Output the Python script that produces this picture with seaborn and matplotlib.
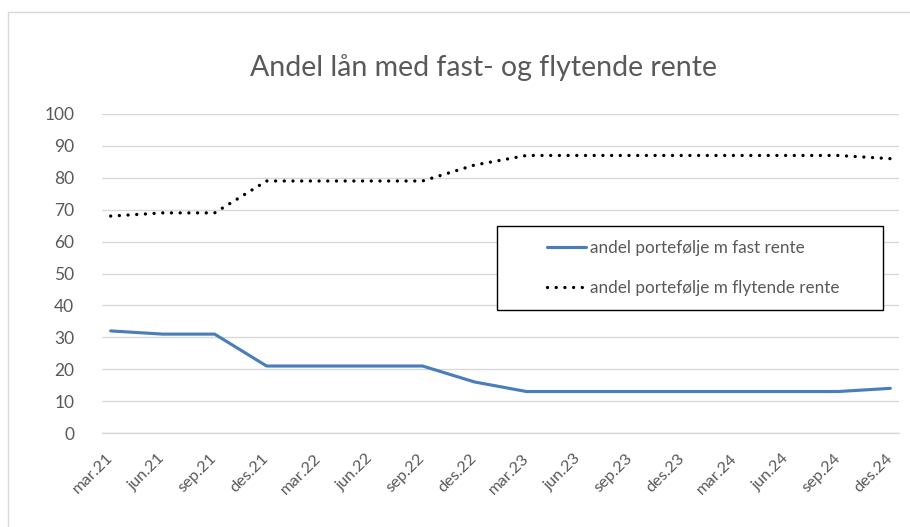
import matplotlib
matplotlib.use("Agg")
import matplotlib.pyplot as plt
from matplotlib.patches import Rectangle
import numpy as np
import pandas as pd
import seaborn as sns

# ---- data ----
categories = ["mar.21", "jun.21", "sep.21", "des.21",
              "mar.22", "jun.22", "sep.22", "des.22",
              "mar.23", "jun.23", "sep.23", "des.23",
              "mar.24", "jun.24", "sep.24", "des.24"]
fast_rente = [32, 31, 31, 21, 21, 21, 21, 16, 13, 13, 13, 13, 13, 13, 13, 14]
flytende_rente = [68, 69, 69, 79, 79, 79, 79, 84, 87, 87, 87, 87, 87, 87, 87, 86]
series_names = ["andel portefølje m fast rente", "andel portefølje m flytende rente"]
y_ticks = [0, 10, 20, 30, 40, 50, 60, 70, 80, 90, 100]
title = "Andel lån med fast- og flytende rente"

# month-based date axis: each category is a quarter start; points sit mid-month
month_start = np.arange(len(categories)) * 3
month_mid = month_start + 0.5

df = pd.DataFrame({
    "x": np.concatenate([month_mid, month_mid]),
    "y": fast_rente + flytende_rente,
    "serie": [series_names[0]] * len(categories) + [series_names[1]] * len(categories),
})

sns.set_theme(style="white")
plt.rcParams["font.family"] = ["Lato", "DejaVu Sans"]

W, H = 910, 527
fig = plt.figure(figsize=(W / 100, H / 100), dpi=100)
fig.patch.set_facecolor("white")

# chart area border
fig.patches.append(Rectangle((8 / W, -0.1), 1.2, 1 - 12 / H + 0.1,
                             transform=fig.transFigure, fill=False,
                             edgecolor="#d9d9d9", linewidth=1.0, zorder=0))

ax = fig.add_axes([102 / W, (H - 433) / H, 797 / W, 319 / H])
ax.set_facecolor("white")

grey = "#595959"
grid_c = "#d9d9d9"

sns.lineplot(data=df[df["serie"] == series_names[0]], x="x", y="y", ax=ax,
             color="#4a7ebb", linewidth=2.25, label=series_names[0],
             solid_joinstyle="round", solid_capstyle="round")
sns.lineplot(data=df[df["serie"] == series_names[1]], x="x", y="y", ax=ax,
             color="black", linewidth=2.4, label=series_names[1],
             linestyle=(0, (0.01, 2.6)), dash_capstyle="round")

ax.set_xlim(0, month_start[-1] + 1)
ax.set_ylim(0, 100)
ax.set_yticks(y_ticks)
ax.set_yticklabels([str(v) for v in y_ticks], color=grey, fontsize=12.5)
ax.set_xticks(month_mid)
ax.set_xticklabels(categories, rotation=45, ha="right", va="center",
                   rotation_mode="anchor", color=grey, fontsize=11.8)
ax.set_xticks(month_start, minor=True)
ax.tick_params(axis="x", which="major", length=0, pad=16.5)
ax.tick_params(axis="x", which="minor", length=5, color=grid_c, width=1, direction="out")
ax.tick_params(axis="y", length=0, pad=20)
ax.yaxis.grid(True, color=grid_c, linewidth=1)
ax.set_axisbelow(True)
for s in ["top", "right", "left"]:
    ax.spines[s].set_visible(False)
ax.spines["bottom"].set_color(grid_c)
ax.spines["bottom"].set_linewidth(1)
ax.set_xlabel("")
ax.set_ylabel("")

fig.text(483 / W, 1 - 68 / H, title, ha="center", va="center",
         fontsize=20.5, color=grey)

# legend
handles, labels = ax.get_legend_handles_labels()
ax.get_legend().remove()
fig.patches.append(Rectangle((497 / W, 1 - 310 / H), 386 / W, 84 / H,
                             transform=fig.transFigure, fill=True, facecolor="white",
                             edgecolor="black", linewidth=1.0, zorder=5))
leg = fig.legend(handles, labels, loc="center", bbox_to_anchor=(693 / W, 1 - 268 / H),
                 frameon=False, fontsize=12.3, labelcolor=grey, handlelength=2.3,
                 handletextpad=0.2, labelspacing=1.45)
leg.set_zorder(6)

fig.savefig("out.png", dpi=100, facecolor="white")
